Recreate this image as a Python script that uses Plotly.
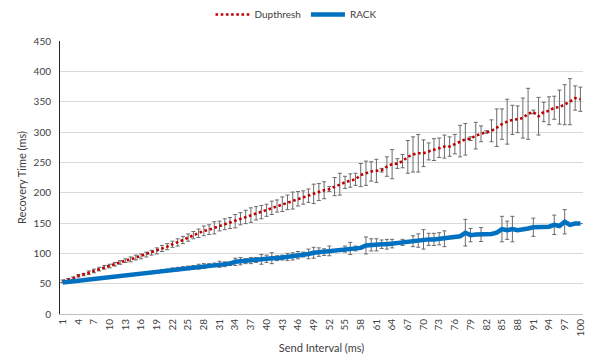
import plotly.graph_objects as go

# Send interval categories (ms)
send_interval = list(range(1, 101))
tick_labels = [str(v) for v in range(1, 101, 3)]

# Mean recovery time (ms) per send interval
dupthresh_ms = [
    54, 56, 59, 63, 65, 68, 71, 74, 77, 79,
    82, 85, 88, 90, 93, 95, 98, 101, 104, 108,
    111, 115, 118, 122, 126, 130, 133, 137, 139, 142,
    145, 148, 150, 153, 157, 160, 163, 166, 168, 171,
    175, 178, 181, 184, 187, 190, 192, 195, 198, 201,
    204, 206, 210, 214, 217, 220, 222, 229, 232, 235,
    236, 237, 243, 247, 248, 252, 259, 263, 265, 265,
    268, 271, 274, 276, 276, 280, 285, 288, 289, 294,
    297, 300, 302, 307, 313, 317, 320, 321, 323, 330,
    333, 326, 333, 335, 340, 341, 345, 350, 356, 354,
]
dupthresh_err = [
    2, 2, 2, 2, 2, 3, 3, 3, 3, 3,
    3, 3, 3, 4, 4, 4, 4, 4, 5, 5,
    5, 5, 6, 6, 6, 6, 7, 8, 8, 10,
    8, 9, 9, 11, 10, 11, 12, 11, 11, 10,
    11, 10, 12, 12, 14, 12, 11, 11, 16, 14,
    14, 4, 15, 18, 10, 11, 10, 19, 20, 16,
    19, 3, 16, 24, 8, 11, 27, 29, 31, 22,
    14, 18, 16, 19, 16, 16, 26, 26, 3, 22,
    13, 2, 18, 31, 25, 37, 24, 22, 33, 42,
    3, 31, 16, 23, 19, 28, 33, 38, 20, 20,
]

rack_ms = [
    52, 53, 54, 55, 55, 56, 57, 58, 60, 61,
    62, 63, 63, 64, 65, 66, 67, 68, 70, 71,
    72, 73, 74, 75, 76, 77, 78, 79, 80, 81,
    82, 82, 83, 86, 87, 87, 88, 89, 90, 91,
    92, 92, 93, 94, 95, 97, 98, 99, 101, 102,
    102, 104, 104, 105, 107, 108, 108, 109, 113, 114,
    114, 115, 115, 116, 117, 118, 119, 120, 121, 123,
    123, 123, 124, 124, 125, 126, 128, 134, 130, 131,
    131, 132, 132, 134, 140, 138, 140, 138, 139, 141,
    143, 143, 143, 144, 147, 145, 152, 147, 149, 149,
]
rack_err = [
    None, None, None, None, None, None, None, None, None, None,
    None, None, None, None, None, None, None, None, None, 2,
    2, 3, 3, 3, 3, 3, 4, 4, 3, 3,
    5, 4, 3, 6, 6, 4, 5, 4, 8, 6,
    9, 4, 4, 6, 6, 6, 4, 8, 9, 7,
    5.5, 8, None, None, 5, 10, 4, None, 14, 10,
    10, 7, 8, 7, None, 5, None, 9, 11, 16,
    10, 10, 10, 13, None, None, None, 22, 11, None,
    11.5, None, None, None, 21, 15, 21, None, None, None,
    15, None, None, None, 16, None, 20, None, None, None,
]

FONT = "Lato, 'Open Sans', sans-serif"
TEXT = "#404040"
ERR = "#6b6b6b"

fig = go.Figure()

fig.add_trace(go.Scatter(
    x=send_interval, y=dupthresh_ms, name="Dupthresh", mode="lines",
    line=dict(color="#C00000", width=2.6, dash="2.6px,2.6px"),
    error_y=dict(type="data", array=dupthresh_err, visible=True,
                 color=ERR, thickness=1, width=2),
))

fig.add_trace(go.Scatter(
    x=send_interval, y=rack_ms, name="RACK", mode="lines",
    line=dict(color="#0070C0", width=4.5),
    error_y=dict(type="data", array=rack_err, visible=True,
                 color=ERR, thickness=1, width=2),
))

fig.update_layout(
    width=592, height=364,
    margin=dict(l=60, r=9, t=41, b=50),
    paper_bgcolor="white", plot_bgcolor="white",
    font=dict(family=FONT, size=10, color=TEXT),
    showlegend=True,
    legend=dict(orientation="h", xref="container", yref="container",
                x=0.5, xanchor="center", y=0.96, yanchor="middle",
                font=dict(size=10, color=TEXT), itemwidth=34,
                traceorder="normal"),
    xaxis=dict(
        range=[0.5, 100.5], tickmode="array",
        tickvals=list(range(1, 101, 3)), ticktext=tick_labels,
        tickangle=-90, showgrid=False, zeroline=False,
        showline=True, linecolor="#BFBFBF", linewidth=1,
        ticks="", tickfont=dict(size=10, color=TEXT),
        title=dict(text="Send Interval (ms)", font=dict(size=11, color=TEXT),
                   standoff=8),
        automargin=False,
    ),
    yaxis=dict(
        range=[0, 450], dtick=50, showgrid=True, gridcolor="#D9D9D9",
        gridwidth=1, zeroline=False, showline=True, linecolor="#262626",
        linewidth=1, ticks="", tickfont=dict(size=10, color=TEXT),
        ticklabelstandoff=6,
        title=dict(text="Recovery Time (ms)", font=dict(size=11, color=TEXT),
                   standoff=4),
        automargin=False,
    ),
)

fig.write_html("out.html")
